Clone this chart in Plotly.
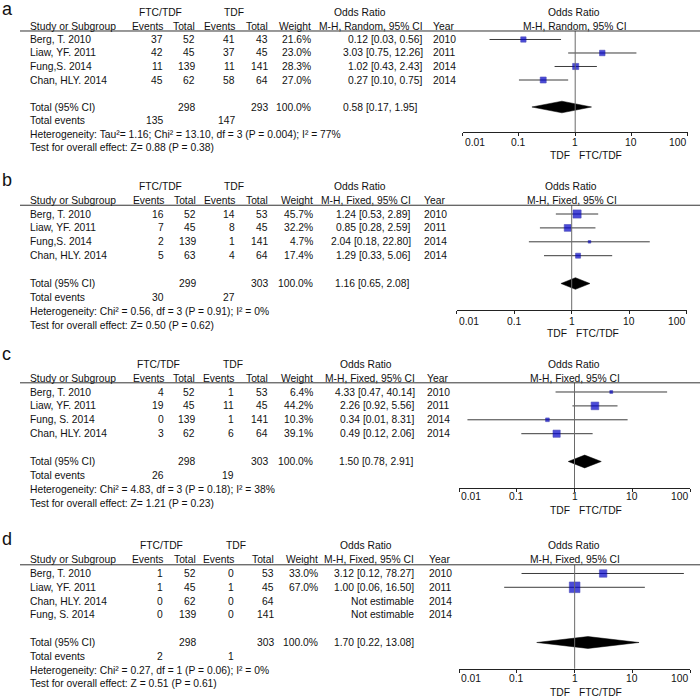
import math
import plotly.graph_objects as go

W, H = 700, 698
FONT = "Liberation Sans, Arial, sans-serif"
FS = 10.3

# ---------------- data ----------------
tick_vals = [0.01, 0.1, 1, 10, 100]
tick_text = ["0.01", "0.1", "1", "10", "100"]
favours = ["TDF", "FTC/TDF"]
group_labels = ["FTC/TDF", "TDF"]
col_headers = ["Study or Subgroup", "Events", "Total", "Events", "Total", "Weight"]

# Panel a
a_study = ["Berg, T. 2010", "Liaw, YF. 2011", "Fung,S. 2014", "Chan, HLY. 2014"]
a_ev1 = [37, 42, 11, 45]
a_n1 = [52, 45, 139, 62]
a_ev2 = [41, 37, 11, 58]
a_n2 = [43, 45, 141, 64]
a_weight = [21.6, 23.0, 28.3, 27.0]
a_or = [0.12, 3.03, 1.02, 0.27]
a_lo = [0.03, 0.75, 0.43, 0.10]
a_hi = [0.56, 12.26, 2.43, 0.75]
a_year = [2010, 2011, 2014, 2014]
a_total = [298, 293]
a_events = [135, 147]
a_pooled = [0.58, 0.17, 1.95]
a_method = "M-H, Random, 95% CI"
a_het = "Heterogeneity: Tau²= 1.16; Chi² = 13.10, df = 3 (P = 0.004); I² = 77%"
a_test = "Test for overall effect: Z= 0.88 (P = 0.38)"

# Panel b
b_study = ["Berg, T. 2010", "Liaw, YF. 2011", "Fung,S. 2014", "Chan, HLY. 2014"]
b_ev1 = [16, 7, 2, 5]
b_n1 = [52, 45, 139, 63]
b_ev2 = [14, 8, 1, 4]
b_n2 = [53, 45, 141, 64]
b_weight = [45.7, 32.2, 4.7, 17.4]
b_or = [1.24, 0.85, 2.04, 1.29]
b_lo = [0.53, 0.28, 0.18, 0.33]
b_hi = [2.89, 2.59, 22.80, 5.06]
b_year = [2010, 2011, 2014, 2014]
b_total = [299, 303]
b_events = [30, 27]
b_pooled = [1.16, 0.65, 2.08]
b_method = "M-H, Fixed, 95% CI"
b_het = "Heterogeneity: Chi² = 0.56, df = 3 (P = 0.91); I² = 0%"
b_test = "Test for overall effect: Z= 0.50 (P = 0.62)"

# Panel c
c_study = ["Berg, T. 2010", "Liaw, YF. 2011", "Fung, S. 2014", "Chan, HLY. 2014"]
c_ev1 = [4, 19, 0, 3]
c_n1 = [52, 45, 139, 62]
c_ev2 = [1, 11, 1, 6]
c_n2 = [53, 45, 141, 64]
c_weight = [6.4, 44.2, 10.3, 39.1]
c_or = [4.33, 2.26, 0.34, 0.49]
c_lo = [0.47, 0.92, 0.014, 0.12]
c_hi = [40.14, 5.56, 8.31, 2.06]
c_year = [2010, 2011, 2014, 2014]
c_total = [298, 303]
c_events = [26, 19]
c_pooled = [1.50, 0.78, 2.91]
c_method = "M-H, Fixed, 95% CI"
c_het = "Heterogeneity: Chi² = 4.83, df = 3 (P = 0.18); I² = 38%"
c_test = "Test for overall effect: Z= 1.21 (P = 0.23)"

# Panel d
d_study = ["Berg, T. 2010", "Liaw, YF. 2011", "Chan, HLY. 2014", "Fung, S. 2014"]
d_ev1 = [1, 1, 0, 0]
d_n1 = [52, 45, 62, 139]
d_ev2 = [0, 1, 0, 0]
d_n2 = [53, 45, 64, 141]
d_weight = [33.0, 67.0, None, None]
d_or = [3.12, 1.00, None, None]
d_lo = [0.12, 0.06, None, None]
d_hi = [78.27, 16.50, None, None]
d_year = [2010, 2011, 2014, 2014]
d_total = [298, 303]
d_events = [2, 1]
d_pooled = [1.70, 0.22, 13.08]
d_method = "M-H, Fixed, 95% CI"
d_het = "Heterogeneity: Chi² = 0.27, df = 1 (P = 0.06); I² = 0%"
d_test = "Test for overall effect: Z = 0.51 (P = 0.61)"

panels = [
    dict(letter="a", study=a_study, ev1=a_ev1, n1=a_n1, ev2=a_ev2, n2=a_n2, weight=a_weight,
         orr=a_or, lo=a_lo, hi=a_hi, year=a_year, total=a_total, events=a_events,
         pooled=a_pooled, method=a_method, het=a_het, test=a_test),
    dict(letter="b", study=b_study, ev1=b_ev1, n1=b_n1, ev2=b_ev2, n2=b_n2, weight=b_weight,
         orr=b_or, lo=b_lo, hi=b_hi, year=b_year, total=b_total, events=b_events,
         pooled=b_pooled, method=b_method, het=b_het, test=b_test),
    dict(letter="c", study=c_study, ev1=c_ev1, n1=c_n1, ev2=c_ev2, n2=c_n2, weight=c_weight,
         orr=c_or, lo=c_lo, hi=c_hi, year=c_year, total=c_total, events=c_events,
         pooled=c_pooled, method=c_method, het=c_het, test=c_test),
    dict(letter="d", study=d_study, ev1=d_ev1, n1=d_n1, ev2=d_ev2, n2=d_n2, weight=d_weight,
         orr=d_or, lo=d_lo, hi=d_hi, year=d_year, total=d_total, events=d_events,
         pooled=d_pooled, method=d_method, het=d_het, test=d_test),
]

# ---------------- layout geometry (pixels) ----------------
geoms = [
    dict(letter_y=9, y0=39.5, dy=13.5, top=-0.63, bot=6.85, xl=462.7, xr=687.7,
         tick_idx=7.6, fav_idx=8.58, st=28, fe=165, ft=197, te=237, tt=270, w=313,
         orc=425, tor=420, yr=431, h_ftc=160, h_tdf=234, h_or=360, ksize=1.15, dh=0.43),
    dict(letter_y=180, y0=214, dy=13.9, top=-0.63, bot=6.9, xl=456.7, xr=686.7,
         tick_idx=7.75, fav_idx=8.6, st=28, fe=166, ft=198, te=237, tt=270, w=315,
         orc=413, tor=412, yr=422, h_ftc=160, h_tdf=234, h_or=360, ksize=1.2, dh=0.42),
    dict(letter_y=354, y0=392, dy=13.9, top=-0.66, bot=6.9, xl=459, xr=690,
         tick_idx=7.55, fav_idx=8.56, st=28, fe=166, ft=197, te=236, tt=270, w=315,
         orc=417, tor=416, yr=425, h_ftc=158, h_tdf=233, h_or=366, ksize=1.15, dh=0.46),
    dict(letter_y=539, y0=573.5, dy=13.8, top=-0.63, bot=6.9, xl=459.3, xr=690,
         tick_idx=7.6, fav_idx=8.59, st=28, fe=165, ft=198, te=236, tt=276, w=320,
         orc=416, tor=416, yr=427, h_ftc=161, h_tdf=236, h_or=366, ksize=1.3, dh=0.43),
]

fig = go.Figure()
annotations = []
shapes = []
layout_axes = {}


def px(x):
    return x / W


def ann(text, xpix, ypix, xanchor="left", size=FS):
    return dict(text=str(text), x=xpix / W, y=1 - ypix / H, xref="paper", yref="paper",
                xanchor=xanchor, yanchor="middle", showarrow=False,
                font=dict(size=size, color="#111", family=FONT))


for i, (p, g) in enumerate(zip(panels, geoms)):
    k = i + 1
    xa = "x" if k == 1 else f"x{k}"
    ya = "y" if k == 1 else f"y{k}"
    xa_name = "xaxis" if k == 1 else f"xaxis{k}"
    ya_name = "yaxis" if k == 1 else f"yaxis{k}"
    xov_name = f"xaxis{4 + k}"

    def rowy(idx, g=g):
        return g["y0"] + g["dy"] * idx

    def logx(v, g=g):
        return g["xl"] + (math.log10(v) + 2) / 4 * (g["xr"] - g["xl"])

    ytop_px = rowy(g["top"])
    ybot_px = rowy(g["bot"])
    ydom = [1 - ybot_px / H, 1 - ytop_px / H]
    xdom = [g["xl"] / W, g["xr"] / W]

    layout_axes[xa_name] = dict(type="log", range=[-2, 2], domain=xdom, anchor=ya,
                                showline=True, linecolor="#222", linewidth=1,
                                ticks="outside", ticklen=3, tickwidth=1, tickcolor="#222",
                                tickvals=tick_vals, showticklabels=False,
                                showgrid=False, zeroline=False, fixedrange=True)
    layout_axes[xov_name] = dict(type="log", range=[-2, 2], overlaying=xa, anchor=ya,
                                 side="bottom", ticks="inside", ticklen=3, tickwidth=1,
                                 tickcolor="#222", tickvals=tick_vals,
                                 showticklabels=False, showgrid=False, zeroline=False,
                                 showline=False)
    layout_axes[ya_name] = dict(range=[g["bot"], g["top"]], domain=ydom, visible=False,
                                anchor=xa, fixedrange=True)

    n = len(p["study"])
    rows = list(range(n))
    tot_row, ev_row, het_row, test_row = n + 1, n + 2, n + 3, n + 4

    # CI lines
    cx, cy = [], []
    for r, lo, hi in zip(rows, p["lo"], p["hi"]):
        if lo is None:
            continue
        cx += [lo, hi, None]
        cy += [r, r, None]
    fig.add_trace(go.Scatter(x=cx, y=cy, mode="lines", xaxis=xa, yaxis=ya,
                             line=dict(color="#3c3c3c", width=1), showlegend=False,
                             hoverinfo="skip"))
    # squares
    mx, my, ms = [], [], []
    for r, o, wt in zip(rows, p["orr"], p["weight"]):
        if o is None:
            continue
        mx.append(o)
        my.append(r)
        ms.append(max(2.5, g["ksize"] * wt ** 0.5))
    fig.add_trace(go.Scatter(x=mx, y=my, mode="markers", xaxis=xa, yaxis=ya,
                             marker=dict(symbol="square", size=ms, color="#0000c8",
                                         line=dict(width=0.6, color="#00009a")),
                             showlegend=False, hoverinfo="skip"))
    # pooled diamond
    est, plo, phi = p["pooled"]
    fig.add_trace(go.Scatter(x=[plo, est, phi, est, plo],
                             y=[tot_row, tot_row - g["dh"], tot_row, tot_row + g["dh"], tot_row],
                             mode="lines", fill="toself", fillcolor="black",
                             line=dict(color="black", width=0.5), xaxis=xa, yaxis=ya,
                             showlegend=False, hoverinfo="skip"))

    # lines
    shapes.append(dict(type="line", xref=xa, yref=f"{ya} domain", x0=1, x1=1, y0=0, y1=1,
                       line=dict(color="#6a6a6a", width=1)))
    shapes.append(dict(type="line", xref="paper", yref=f"{ya} domain", x0=px(20), x1=1,
                       y0=1, y1=1, line=dict(color="#333", width=1)))

    # panel letter
    annotations.append(ann(p["letter"], 0, g["letter_y"], "left", size=18))

    x_one = logx(1)
    # headers
    annotations.append(ann(group_labels[0], g["h_ftc"], rowy(-2), "center"))
    annotations.append(ann(group_labels[1], g["h_tdf"], rowy(-2), "center"))
    annotations.append(ann("Odds Ratio", g["h_or"], rowy(-2), "center"))
    annotations.append(ann("Odds Ratio", x_one - 1, rowy(-2), "center"))
    annotations.append(ann(p["method"], x_one, rowy(-1), "center"))
    annotations.append(ann(col_headers[0], g["st"], rowy(-1), "left"))
    for txt, key in zip(col_headers[1:], ["fe", "ft", "te", "tt", "w"]):
        annotations.append(ann(txt, g[key], rowy(-1), "right"))
    annotations.append(ann(p["method"], g["orc"], rowy(-1), "right"))
    annotations.append(ann("Year", g["yr"], rowy(-1), "left"))

    # study rows
    for r in rows:
        yy = rowy(r)
        annotations.append(ann(p["study"][r], g["st"], yy, "left"))
        annotations.append(ann(p["ev1"][r], g["fe"], yy, "right"))
        annotations.append(ann(p["n1"][r], g["ft"], yy, "right"))
        annotations.append(ann(p["ev2"][r], g["te"], yy, "right"))
        annotations.append(ann(p["n2"][r], g["tt"], yy, "right"))
        wt = p["weight"][r]
        if wt is not None:
            annotations.append(ann(f"{wt:.1f}%", g["w"], yy, "right"))
        o = p["orr"][r]
        if o is not None:
            txt = f"{o:.2f} [{p['lo'][r]:.2f}, {p['hi'][r]:.2f}]"
        else:
            txt = "Not estimable"
        annotations.append(ann(txt, g["orc"], yy, "right"))
        annotations.append(ann(p["year"][r], g["yr"], yy, "left"))

    # totals
    yy = rowy(tot_row)
    annotations.append(ann("Total (95% CI)", g["st"], yy, "left"))
    annotations.append(ann(p["total"][0], g["ft"], yy, "right"))
    annotations.append(ann(p["total"][1], g["tt"], yy, "right"))
    annotations.append(ann("100.0%", g["w"], yy, "right"))
    annotations.append(ann(f"{est:.2f} [{plo:.2f}, {phi:.2f}]", g["tor"], yy, "right"))
    yy = rowy(ev_row)
    annotations.append(ann("Total events", g["st"], yy, "left"))
    annotations.append(ann(p["events"][0], g["fe"], yy, "right"))
    annotations.append(ann(p["events"][1], g["te"], yy, "right"))
    annotations.append(ann(p["het"], g["st"], rowy(het_row), "left"))
    annotations.append(ann(p["test"], g["st"], rowy(test_row), "left"))

    # axis tick labels
    for j, (tv, tt) in enumerate(zip(tick_vals, tick_text)):
        anchor = "left" if j == 0 else ("right" if j == len(tick_vals) - 1 else "center")
        annotations.append(ann(tt, logx(tv), rowy(g["tick_idx"]), anchor))
    annotations.append(ann(favours[0], x_one - 3, rowy(g["fav_idx"]), "right"))
    annotations.append(ann(favours[1], x_one + 2, rowy(g["fav_idx"]), "left"))

fig.update_layout(
    width=W, height=H, margin=dict(l=0, r=0, t=0, b=0),
    paper_bgcolor="white", plot_bgcolor="white",
    font=dict(family=FONT, size=FS, color="#111"),
    annotations=annotations, shapes=shapes, showlegend=False,
    **layout_axes,
)

fig.write_html("out.html", config={"displayModeBar": False},
               post_script="document.body.style.margin='0';document.body.style.overflow='hidden';")
